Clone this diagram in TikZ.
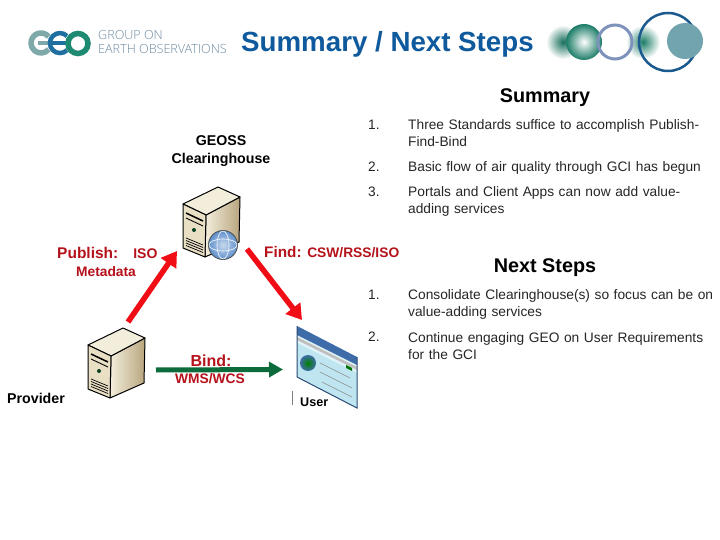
\documentclass[tikz,border=0pt]{standalone}
\usepackage{fontspec}
\setmainfont{Liberation Sans}
\newfontfamily\logofont{Open Sans Light}
\usetikzlibrary{arrows.meta}
\definecolor{titleblue}{HTML}{0F5A9C}
\definecolor{labelred}{HTML}{B5121B}
\definecolor{arrowred}{HTML}{F00D16}
\definecolor{arrowgreen}{HTML}{0B6B3A}
\definecolor{logotext}{HTML}{6F8CA3}
\definecolor{logoteal}{HTML}{7FA8A8}
\definecolor{logoblue}{HTML}{1F6FA0}
\definecolor{logogreen}{HTML}{1E8A72}
\definecolor{ringpurple}{HTML}{7E92BC}
\definecolor{ringnavy}{HTML}{1A5A8E}
\definecolor{discteal}{HTML}{72A4AE}
\definecolor{srvA}{HTML}{F3EEDC}
\definecolor{srvB}{HTML}{E8DFC4}
\definecolor{srvC}{HTML}{B8A57E}
\definecolor{winblue}{HTML}{3E6CA8}
\definecolor{winsky}{HTML}{BFE6F0}
\definecolor{globeblue}{HTML}{5F90CC}
\newcommand{\fs}[1]{\fontsize{#1}{#1}\selectfont}
\tikzset{
  x=1pt,y=-1pt,
  body/.style={anchor=north west,align=left,inner sep=0pt,text width=312pt,font=\fs{13.75},text=black!85},
  num/.style={anchor=north west,inner sep=0pt,font=\fs{13.7},text=black!85},
  head/.style={inner sep=0pt,font=\bfseries\fs{19.8},text=black},
  blk/.style={inner sep=0pt,font=\bfseries\fs{14.2},text=black,align=center},
  redlab/.style={inner sep=0pt,font=\bfseries\fs{13.8},text=labelred,align=center},
  bigred/.style={line width=5.5pt,draw=arrowred,-{Triangle[length=15pt,width=18pt]}},
  biggreen/.style={line width=5pt,draw=arrowgreen,-{Triangle[length=14pt,width=15pt]}},
  outline/.style={draw=black,line width=1pt,line join=round},
  srvslot/.style={draw=black,line width=.9pt},
}
% server: #1 x, #2 y of top vertex
\newcommand{\srv}[2]{%
\begin{scope}[shift={(#1,#2)}]
  \shade[left color=srvA,right color=srvC,draw=black,line width=1pt,line join=round] (-12,28) -- (22,10) -- (21,55) -- (-13,70) -- cycle;
  \fill[srvA,outline] (0,0) -- (22,10) -- (-12,28) -- (-35,17) -- cycle;
  \fill[srvB,outline] (-35,17) -- (-12,28) -- (-13,70) -- (-35,61) -- cycle;
  \draw[srvslot,line width=1.5pt] (-32,26) -- (-15,34);
  \draw[srvslot] (-32,31) -- (-15,39);
  \fill[arrowgreen!60!black] (-24,43) circle (2pt);
  \foreach \d in {0,2.5,5,7.5}{\draw[srvslot,line width=.7pt] (-32,51+\d) -- (-15,58+\d);}
\end{scope}}
\begin{document}
\begin{tikzpicture}
\useasboundingbox (0,0) rectangle (720,540);
\fill[white] (0,0) rectangle (720,540);

% left logo
\draw[logoteal,line width=5.5pt] (41,43) ++(40:10) arc (40:320:10);
\draw[logoteal,line width=4pt] (38,43) -- (50,43);
\draw[logoblue,line width=4.5pt] (67,36) arc (-45:-315:10);
\draw[logoblue,line width=3.5pt] (49,43) -- (66,43);
\draw[logogreen,line width=5.5pt] (78,43.5) circle (10);
\node[inner sep=0pt,anchor=west,font=\logofont\fs{12.6},text=logotext] (l1) at (98,35) {GROUP ON};
\node[inner sep=0pt,anchor=west,font=\logofont\fs{12.6},text=logotext] (l2) at (98,49) {EARTH OBSERVATIONS};

% title
\node[inner sep=0pt,anchor=west,font=\bfseries\fs{27.7},text=titleblue] (title) at (241,44.5) {Summary / Next Steps};

% right logo
\shade[inner color=logogreen!80!black,outer color=white] (563,42) circle (17);
\shade[inner color=white,outer color=logogreen!90!black] (584,42) circle (18);
\shade[inner color=logogreen!90!black,outer color=white] (643,42) circle (17);
\draw[ringpurple,line width=3pt] (615,42) circle (17);
\draw[ringnavy,line width=2.5pt] (668,42) circle (29);
\fill[discteal] (685,41) circle (18);

% right column
\node[head] (summary) at (545,98) {Summary};
\node[num] (n1) at (368,119.5) {1.};
\node[body] (s1) at (408,119) {Three Standards suffice to accomplish Publish-\\[3.4pt]Find-Bind};
\node[num] (n2) at (368,161.5) {2.};
\node[body] (s2) at (408,161) {Basic flow of air quality through GCI has begun};
\node[num] (n3) at (368,186.5) {3.};
\node[body] (s3) at (408,186) {Portals and Client Apps can now add value-\\[3.4pt]adding services};
\node[head] (next) at (545,268) {Next Steps};
\node[num] (n4) at (368,289.5) {1.};
\node[body] (s4) at (408,289.5) {Consolidate Clearinghouse(s) so focus can be on\\[3.4pt]value-adding services};
\node[num] (n5) at (368,332) {2.};
\node[body] (s5) at (408,332) {Continue engaging GEO on User Requirements\\[3.4pt]for the GCI};

% servers
\srv{218}{187}
\srv{123}{328}
% globe
\shade[inner color=globeblue!35!white,outer color=globeblue,draw=black!70,line width=.8pt] (223,245) circle (14.5);
\draw[white,line width=.6pt] (223,245) ellipse (14 and 6) (223,245) ellipse (6 and 14);

% user window
\fill[winsky!50!white] (297,326) -- (357,357) -- (357,408) -- (297,377) -- cycle;
\fill[winsky] (297,343) -- (357,373) -- (357,408) -- (297,377) -- cycle;
\fill[winblue] (297,326) -- (357,357) -- (357,365) -- (297,335) -- cycle;
\fill[black!25] (297,337) -- (357,367) -- (357,370) -- (297,340) -- cycle;
\fill[green!45!black] (346,365) -- (352,368) -- (352,371) -- (346,368) -- cycle;
\draw[black!45,line width=.6pt] (320,363) -- (350,378) (320,372) -- (352,388) (322,382) -- (352,397);
\draw[winblue!70!black,line width=1pt] (297,326) -- (297,377) -- (357,408) -- (357,357);
\shade[inner color=green!50!black,outer color=winblue] (308,363) circle (8);
\draw[black!50,line width=.8pt] (292,391) -- (292,405);

% hidden anchors
\coordinate (pubtail) at (128,322);
\coordinate (pubtip) at (177,251);
\coordinate (findtail) at (247,249);
\coordinate (findtip) at (302,320);
\coordinate (bindtail) at (156,370);
\coordinate (bindtip) at (283,369.5);

% labels
\node[blk] (geoss) at (221,151) {GEOSS\\[3pt]Clearinghouse};
\node[blk,anchor=west] (prov) at (7,398.5) {Provider};
\node[blk,anchor=west,font=\bfseries\fs{12.6}] (user) at (300,402.5) {User};
\node[redlab,anchor=west,font=\bfseries\fs{15.5}] (pub) at (57,253) {Publish:\hspace{15pt}{\fs{14}ISO}};
\node[redlab] (meta) at (106,271.5) {Metadata};
\node[redlab,anchor=west,font=\bfseries\fs{15.3}] (find) at (264,252) {Find: {\fs{13.8}CSW/RSS/ISO}};
\node[redlab,font=\bfseries\fs{16}] (bind) at (211,361) {Bind:};
\node[redlab] (wms) at (210,379) {WMS/WCS};

% arrows
\draw[bigred] (pubtail) -- (pubtip);
\draw[bigred] (findtail) -- (findtip);
\draw[biggreen] (bindtail) -- (bindtip);
\end{tikzpicture}
\end{document}
